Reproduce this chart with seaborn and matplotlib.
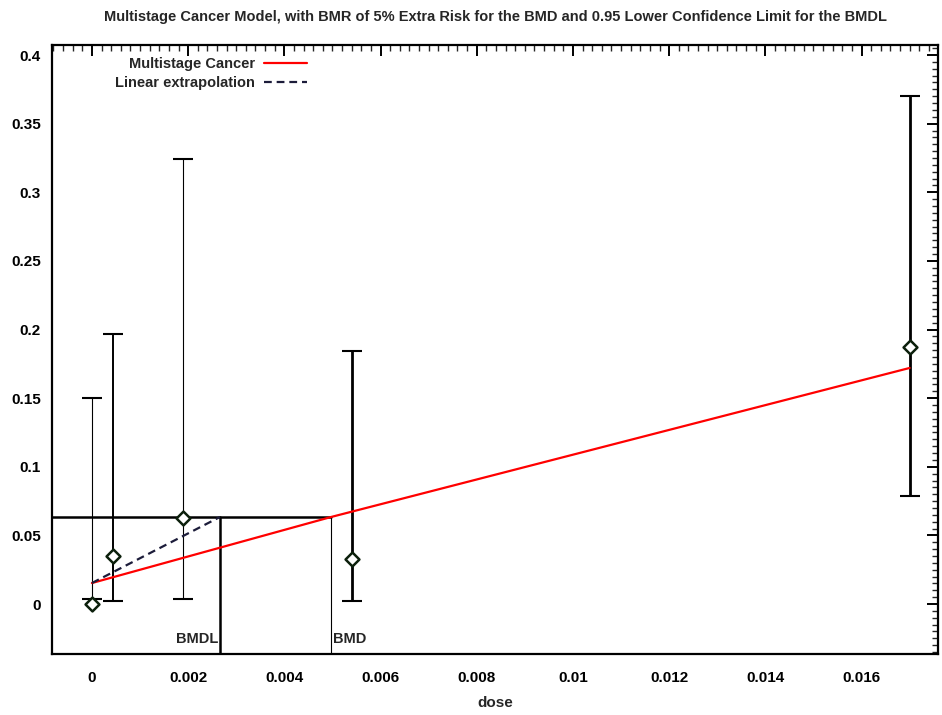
import numpy as np
import pandas as pd
import matplotlib
matplotlib.use("Agg")
import matplotlib.pyplot as plt
import seaborn as sns
from matplotlib.ticker import MultipleLocator, FuncFormatter

# ---- data ----
dose = [0.0, 0.00044, 0.00189, 0.0054, 0.0170]
response = [0.0, 0.035, 0.063, 0.033, 0.187]
ci_lower = [0.004, 0.002, 0.004, 0.002, 0.079]
ci_upper = [0.150, 0.197, 0.324, 0.184, 0.370]
bar_widths = [0.8, 1.4, 0.8, 2.0, 2.0]

model_dose = [0.0, 0.00497, 0.0170]
model_resp = [0.0153, 0.0634, 0.172]

bmr_level = 0.0634
bmdl = 0.00266
bmd = 0.00497
extrap_dose = [0.0, bmdl]
extrap_resp = [0.0153, bmr_level]

title = ("Multistage Cancer Model, with BMR of 5% Extra Risk for the BMD "
         "and 0.95 Lower Confidence Limit for the BMDL")

sns.set_theme(style="white")
plt.rcParams["font.family"] = ["Liberation Sans", "DejaVu Sans"]

fig = plt.figure(figsize=(9.42, 7.15), dpi=100)
ax = fig.add_axes([52 / 942, 1 - 654 / 715, (938 - 52) / 942, (654 - 45) / 715])

xmin, xmax = -0.00083, 0.01759
ymin, ymax = -0.0364, 0.4073

model_df = pd.DataFrame({"dose": model_dose, "resp": model_resp})
extrap_df = pd.DataFrame({"dose": extrap_dose, "resp": extrap_resp})
obs_df = pd.DataFrame({"dose": dose, "resp": response})

# error bars (confidence intervals)
for d, lo, hi, lw in zip(dose, ci_lower, ci_upper, bar_widths):
    mid = (lo + hi) / 2
    ax.errorbar([d], [mid], yerr=[(hi - lo) / 2], fmt="none", ecolor="black",
                elinewidth=lw, capsize=7.5, capthick=1.5, zorder=2)

# BMR / BMD / BMDL lines
ax.plot([xmin, bmd], [bmr_level, bmr_level], color="black", lw=1.8, zorder=3)
ax.plot([bmdl, bmdl], [ymin, bmr_level], color="black", lw=1.8, zorder=3)
ax.plot([bmd, bmd], [ymin, bmr_level], color="black", lw=0.8, zorder=3)
ax.text(bmdl - 0.00004, -0.0255, "BMDL", ha="right", va="center",
        fontsize=10.5, fontweight="bold")
ax.text(bmd + 0.00004, -0.0255, "BMD", ha="left", va="center",
        fontsize=10.5, fontweight="bold")

# model and extrapolation
sns.lineplot(data=model_df, x="dose", y="resp", ax=ax, color="#ff0000",
             lw=1.6, label="Multistage Cancer", zorder=4)
sns.lineplot(data=extrap_df, x="dose", y="resp", ax=ax, color="#1c1c3a",
             lw=1.6, label="Linear extrapolation", zorder=4)
ax.lines[-1].set_dashes([3.5, 2.2])

# observed points
sns.scatterplot(data=obs_df, x="dose", y="resp", ax=ax, marker="D", s=50,
                facecolor="white", edgecolor="#0c200c", linewidth=1.8,
                zorder=5, legend=False)

ax.set_xlim(xmin, xmax)
ax.set_ylim(ymin, ymax)

ax.xaxis.set_major_locator(MultipleLocator(0.002))
ax.xaxis.set_minor_locator(MultipleLocator(0.0002))
ax.yaxis.set_major_locator(MultipleLocator(0.05))
ax.yaxis.set_minor_locator(MultipleLocator(0.005))
fmt = FuncFormatter(lambda v, p: "0" if abs(v) < 1e-12 else f"{v:g}")
ax.xaxis.set_major_formatter(fmt)
ax.yaxis.set_major_formatter(fmt)

ax.tick_params(which="major", direction="in", length=8, width=1.4,
               top=True, right=True, labelsize=11, colors="black")
ax.tick_params(which="minor", direction="in", length=4, width=1.0,
               top=True, right=True)
ax.tick_params(axis="x", which="major", pad=12)
ax.tick_params(axis="y", which="major", pad=8)
for lab in ax.get_xticklabels() + ax.get_yticklabels():
    lab.set_fontweight("bold")

for s in ax.spines.values():
    s.set_color("black")
    s.set_linewidth(1.6)

ax.set_xlabel("dose", fontsize=11, labelpad=8, fontweight="bold")
ax.set_ylabel("")
ax.set_title(title, fontsize=10.5, pad=17, fontweight="bold", x=0.5)

leg = ax.legend(loc="upper right", bbox_to_anchor=(0.298, 0.995), frameon=False,
                markerfirst=False, alignment="right",
                prop={"size": 10.5, "weight": "bold"},
                handlelength=3.0, labelspacing=0.35, borderaxespad=0.2,
                handletextpad=0.6)

fig.savefig("out.png", dpi=100)
